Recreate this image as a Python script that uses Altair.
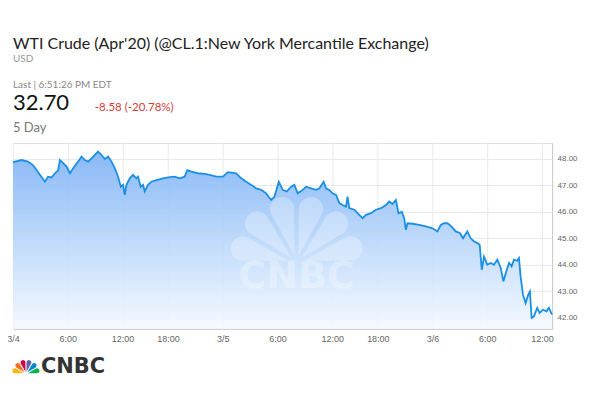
import altair as alt
import pandas as pd

# ---------------- data ----------------
# trading hours elapsed since 3/4 00:00 (the 17:00-18:00 daily break is skipped)
hours = [0.0, 0.95, 1.64, 2.19, 2.59, 2.95, 3.50, 3.83, 4.23, 4.60, 4.96, 5.14, 5.50, 5.88,
         6.24, 6.60, 7.14, 7.52, 7.88, 8.24, 8.79, 9.33, 9.70, 10.07, 10.43, 10.80, 11.16,
         11.52, 11.82, 12.07, 12.25, 12.44, 12.80, 13.16, 13.53, 13.71, 14.00, 14.26, 14.44,
         14.80, 15.17, 15.72, 16.44, 17.18, 17.72, 18.27, 18.82, 19.11, 19.55, 20.27, 21.01,
         21.55, 22.29, 23.01, 23.56, 24.47, 25.02, 25.57, 26.12, 26.66, 27.21, 27.76, 28.30,
         28.67, 29.14, 29.57, 30.01, 30.49, 30.85, 31.21, 31.76, 32.13, 32.68, 33.23, 33.59,
         34.06, 34.32, 34.68, 35.04, 35.42, 35.78, 36.14, 36.51, 36.68, 36.87, 37.42, 37.96,
         38.33, 38.70, 39.25, 39.79, 40.34, 40.89, 41.25, 41.61, 41.98, 42.26, 42.64, 42.89,
         43.07, 43.25, 43.80, 44.53, 45.26, 45.99, 46.53, 46.90, 47.26, 47.63, 48.00, 48.54,
         48.98, 49.34, 49.81, 50.18, 50.55, 50.91, 51.17, 51.39, 51.64, 52.00, 52.37, 52.73,
         53.10, 53.47, 53.76, 54.08, 54.38, 54.67, 54.92, 55.28, 55.47, 55.65, 55.91, 56.20,
         56.49, 56.67, 56.86, 57.11, 57.47, 57.74, 58.10, 58.49, 58.75, 59.08]
price = [47.88, 47.96, 47.90, 47.77, 47.58, 47.40, 47.14, 47.33, 47.30, 47.46, 47.58, 47.96,
         47.84, 47.71, 47.46, 47.65, 47.90, 48.09, 47.96, 47.90, 48.09, 48.28, 48.15, 48.00,
         48.09, 47.90, 47.65, 47.33, 46.95, 47.02, 46.64, 47.02, 47.27, 47.40, 47.27, 47.33,
         46.95, 47.02, 46.77, 47.02, 47.14, 47.20, 47.27, 47.31, 47.33, 47.27, 47.33, 47.58,
         47.52, 47.46, 47.44, 47.40, 47.33, 47.33, 47.50, 47.46, 47.27, 47.14, 47.02, 46.89,
         46.83, 46.70, 46.45, 46.58, 47.14, 46.83, 46.77, 46.95, 47.02, 46.70, 46.83, 46.95,
         46.89, 46.83, 46.89, 47.14, 46.89, 46.83, 46.70, 46.64, 46.33, 46.26, 46.20, 46.58,
         46.14, 46.08, 45.89, 45.76, 45.89, 45.95, 46.08, 46.14, 46.26, 46.39, 46.30, 46.45,
         45.95, 46.00, 45.76, 45.32, 45.57, 45.55, 45.51, 45.45, 45.38, 45.26, 45.51, 45.57,
         45.57, 45.47, 45.26, 45.20, 45.00, 45.26, 45.00, 44.88, 44.82, 44.75, 43.81, 44.31,
         44.00, 44.07, 44.00, 44.19, 43.88, 43.37, 43.75, 44.07, 43.94, 44.19, 44.15, 44.25,
         43.56, 42.87, 42.55, 42.87, 42.99, 41.99, 42.05, 42.37, 42.18, 42.30, 42.24, 42.37,
         42.12]

tick_hours = [0, 6, 12, 17, 23, 29, 35, 40, 46, 52, 58]
tick_labels = ["3/4", "6:00", "12:00", "18:00", "3/5", "6:00", "12:00", "18:00", "3/6", "6:00", "12:00"]
y_ticks = [42, 43, 44, 45, 46, 47, 48]
y_min, y_max = 41.58, 48.6

title_text = "WTI Crude (Apr'20) (@CL.1:New York Mercantile Exchange)"
currency_text = "USD"
last_text = "Last | 6:51:26 PM EDT"
last_price = "32.70"
change_text = "-8.58 (-20.78%)"
range_text = "5 Day"
brand = "CNBC"
feathers = ["yellow", "orange", "red", "purple", "blue", "green"]
feather_colors = ["#fcb711", "#f37021", "#cc004c", "#6460aa", "#0089d0", "#0db14b"]

df = pd.DataFrame({"h": hours, "p": price})

W, H = 540, 186

label_expr = "".join(f"datum.value == {h} ? '{l}' : " for h, l in zip(tick_hours, tick_labels)) + "''"

x_axis = alt.Axis(values=tick_hours, labelExpr=label_expr, title=None, grid=True,
                  gridColor="#e9e9e9", domainColor="#cccccc", ticks=False,
                  labelColor="#666666", labelFont="Liberation Sans", labelFontSize=9,
                  labelPadding=6, labelFlush=False, labelOverlap=False)
y_axis = alt.Axis(values=y_ticks, format=".2f", orient="right", title=None, grid=True,
                  gridColor="#e9e9e9", domainColor="#cccccc", ticks=False,
                  labelColor="#666666", labelFont="Liberation Sans", labelFontSize=8,
                  labelPadding=5, labelOverlap=False, labelFlush=False, tickCount=7)
x_scale = alt.Scale(domain=[0, 59.1], nice=False, zero=False)
y_scale = alt.Scale(domain=[y_min, y_max], nice=False, zero=False)

x_enc = alt.X("h:Q", scale=x_scale, axis=x_axis)
y_enc = alt.Y("p:Q", scale=y_scale, axis=y_axis)

area = alt.Chart(df).mark_area(
    color=alt.Gradient(gradient="linear",
                       stops=[alt.GradientStop(color="#7cb1f5", offset=0),
                              alt.GradientStop(color="#b8d6fa", offset=0.5),
                              alt.GradientStop(color="#f4f9ff", offset=1)],
                       x1=0, x2=0, y1=0, y2=1),
    opacity=0.9
).encode(x=x_enc, y=y_enc, y2=alt.datum(y_min))

line = alt.Chart(df).mark_line(color="#1a8fe6", strokeWidth=1.8).encode(x=x_enc, y=y_enc)

# watermark
wm_df = pd.DataFrame({"f": feathers, "v": [1] * 6, "i": list(range(6))})
wm_arc = alt.Chart(wm_df).mark_arc(outerRadius=68, innerRadius=8, padAngle=0.07,
                                   cornerRadius=22, opacity=0.28, color="white").encode(
    theta=alt.Theta("v:Q", stack=True, scale=alt.Scale(range=[-1.5708, 1.5708])),
    order=alt.Order("i:Q"),
    x=alt.value(284), y=alt.value(120))
wm_text = alt.Chart(pd.DataFrame({"t": [brand]})).mark_text(
    font="DejaVu Sans", fontWeight="bold", fontSize=38, color="white", opacity=0.3,
    align="center", baseline="middle").encode(text="t:N", x=alt.value(284), y=alt.value(134))


def label(txt, x, y, size, color, weight="normal", font="Lato"):
    return alt.Chart(pd.DataFrame({"t": [txt]})).mark_text(
        align="left", baseline="middle", fontSize=size, color=color, fontWeight=weight,
        font=font).encode(text="t:N", x=alt.value(x), y=alt.value(y))


texts = [
    label(title_text, 0, -99, 16, "#222222"),
    label(currency_text, 0, -84, 10, "#999999"),
    label(last_text, 0, -58, 10, "#888888"),
    label(last_price, 0, -40, 22, "#111111"),
    label(change_text, 82, -35, 11.5, "#d83b3b"),
    label(range_text, 0, -15, 13, "#777777"),
    label(brand, 28, 224, 21, "#333333", weight="bold", font="DejaVu Sans"),
]

logo_df = pd.DataFrame({"f": feathers, "v": [1] * 6, "i": list(range(6))})
logo_arc = alt.Chart(logo_df).mark_arc(outerRadius=14, innerRadius=2, padAngle=0.08,
                                       cornerRadius=4).encode(
    theta=alt.Theta("v:Q", stack=True, scale=alt.Scale(range=[-1.5708, 1.5708])),
    color=alt.Color("f:N", scale=alt.Scale(domain=feathers, range=feather_colors), legend=None),
    order=alt.Order("i:Q"),
    x=alt.value(13), y=alt.value(231))

chart = alt.layer(area, wm_arc, wm_text, line, *texts, logo_arc).properties(
    width=W, height=H,
    autosize=alt.AutoSizeParams(type="none"),
    padding={"left": 5, "top": 135, "right": 40, "bottom": 55},
).configure_view(stroke=None).configure(font="Lato", background="white")

chart.save("out.html", embed_options={"renderer": "svg", "actions": False})
